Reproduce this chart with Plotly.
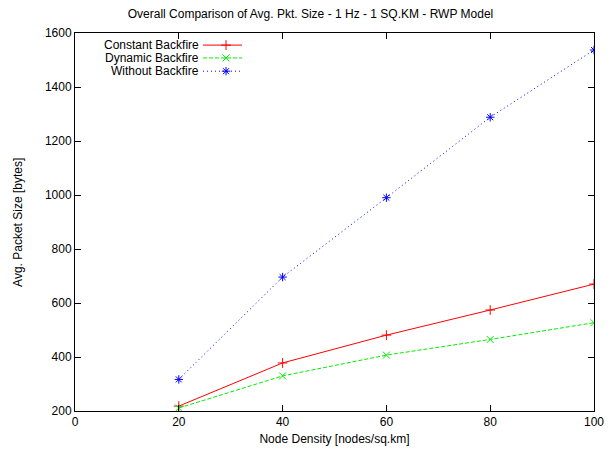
import plotly.graph_objects as go

density = [20, 40, 60, 80, 100]
constant_backfire = [218, 378, 481, 574, 670]
dynamic_backfire = [211, 330, 407, 465, 527]
without_backfire = [317, 696, 990, 1288, 1537]

x_ticks = [0, 20, 40, 60, 80, 100]
y_ticks = [200, 400, 600, 800, 1000, 1200, 1400, 1600]

series = [
    ("Constant Backfire", constant_backfire, "#ff0000", "solid", "cross-thin-open"),
    ("Dynamic Backfire", dynamic_backfire, "#00ee00", "4px,2px", "x-thin-open"),
    ("Without Backfire", without_backfire, "#0000ff", "1px,3px", "asterisk-open"),
]

FONT = "Liberation Sans, Arial, Helvetica, sans-serif"

fig = go.Figure()
for name, vals, color, dash, sym in series:
    fig.add_trace(go.Scatter(
        x=density, y=vals, mode="lines+markers", name=name,
        line=dict(color=color, width=1, dash=dash),
        marker=dict(symbol=sym, size=7, color=color, line=dict(color=color, width=1)),
        showlegend=False,
    ))

# gnuplot-style legend: text right-aligned, sample line on the right
leg_y = [0.968, 0.934, 0.899]
for (name, vals, color, dash, sym), ly in zip(series, leg_y):
    fig.add_annotation(x=0.2428, y=ly, xref="x2", yref="y2", text=name,
                       showarrow=False, xanchor="right", yanchor="middle",
                       font=dict(family=FONT, size=12, color="black"))
    fig.add_trace(go.Scatter(
        x=[0.2466, 0.291, 0.3218], y=[ly, ly, ly], xaxis="x2", yaxis="y2",
        mode="lines", line=dict(color=color, width=1, dash=dash),
        showlegend=False, hoverinfo="skip"))
    fig.add_trace(go.Scatter(
        x=[0.291], y=[ly], xaxis="x2", yaxis="y2", mode="markers",
        marker=dict(symbol=sym, size=7, color=color, line=dict(color=color, width=1)),
        showlegend=False, hoverinfo="skip"))

# y-axis title placed like gnuplot's
fig.add_annotation(x=-0.110, y=0.5, xref="paper", yref="paper",
                   text="Avg. Packet Size [bytes]", textangle=-90, showarrow=False,
                   xanchor="center", yanchor="middle",
                   font=dict(family=FONT, size=12, color="black"))

axis_common = dict(
    showline=True, linecolor="black", linewidth=1, mirror="ticks",
    ticks="inside", ticklen=6, tickcolor="black", tickwidth=1,
    showgrid=False, zeroline=False, automargin=False,
    tickfont=dict(family=FONT, size=12, color="black"),
)

# the page body has an 8px margin, so the figure is 8px smaller on each axis
fig.update_layout(
    width=605, height=442,
    margin=dict(l=67, r=19, t=25, b=39, autoexpand=False),
    paper_bgcolor="white", plot_bgcolor="white",
    title=dict(text="Overall Comparison of Avg. Pkt. Size - 1 Hz - 1 SQ.KM - RWP Model",
               x=0.5, xanchor="center", y=0.986, yanchor="middle",
               font=dict(family=FONT, size=12, color="black")),
    xaxis=dict(range=[0, 100], tickvals=x_ticks,
               title=dict(text="Node Density [nodes/sq.km]", standoff=6,
                          font=dict(family=FONT, size=12, color="black")),
               **axis_common),
    yaxis=dict(range=[200, 1600], tickvals=y_ticks, **axis_common),
    xaxis2=dict(domain=[0, 1], range=[0, 1], overlaying="x", anchor="y2",
                visible=False, fixedrange=True),
    yaxis2=dict(domain=[0, 1], range=[0, 1], overlaying="y", anchor="x2",
                visible=False, fixedrange=True),
    showlegend=False,
)

fig.write_html("out.html")
